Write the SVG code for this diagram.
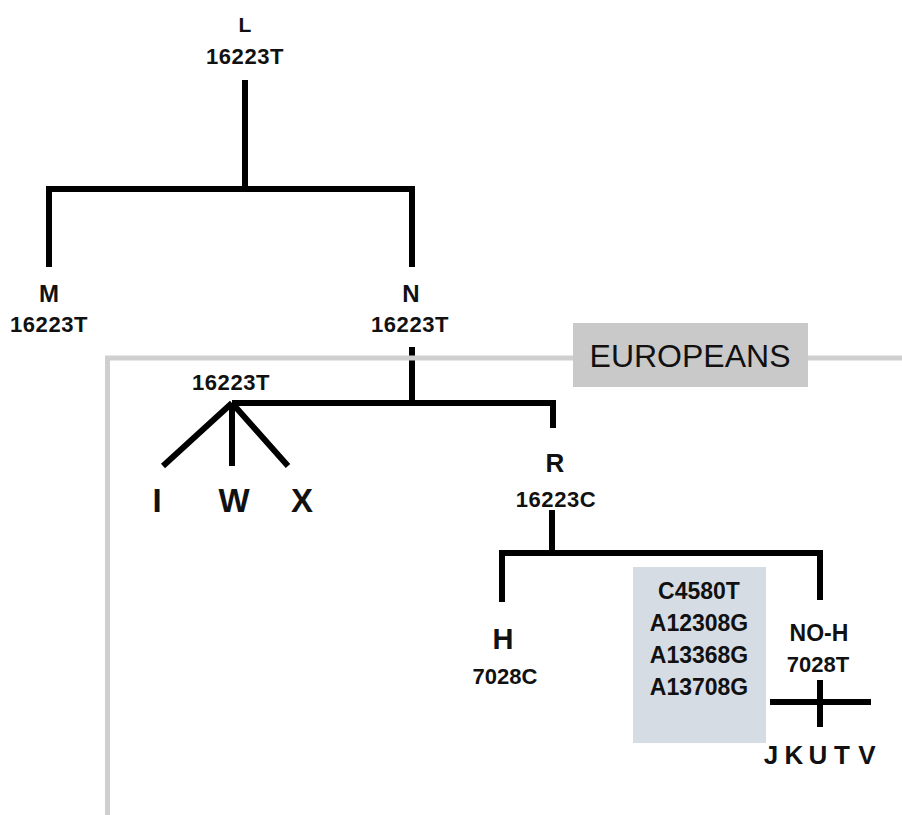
<svg xmlns="http://www.w3.org/2000/svg" width="902" height="815" viewBox="0 0 902 815">
<style>
.t{font-family:"Liberation Sans",Arial,sans-serif;font-weight:bold;fill:#111;text-anchor:middle}
.c{font-size:22px;letter-spacing:0.6px}
.big{font-size:24px}
.m{font-size:23px}
.e{stroke:#000;stroke-width:6;fill:none;stroke-linejoin:miter;stroke-linecap:butt}
</style>
<rect width="902" height="815" fill="#fff"/>
<g id="connectors" class="e">
<path d="M245,80V189"/>
<polyline points="49,267 49,189 412,189 412,267"/>
<path d="M412,347V403"/>
<polyline points="232,403 553,403 553,428"/>
<path d="M232,403L163,466M232,403V466M232,403L288,466"/>
<path d="M552,510V553"/>
<polyline points="502,602 502,553 820,553 820,600"/>
<path d="M770,702H871M820,680V727"/>
</g>
<g id="europeans">
<path d="M107.5,815V358H902" stroke="#cfcfcf" stroke-width="5" fill="none"/>
<rect x="573" y="323" width="235" height="64" fill="#c9c9c9"/>
<text x="690" y="367" font-family="Liberation Sans,Arial,sans-serif" font-size="32" fill="#111" text-anchor="middle">EUROPEANS</text>
</g>
<g id="node-L"><text class="t" x="245" y="32" style="font-size:21px">L</text><text class="t c" x="245" y="64">16223T</text></g>
<g id="node-M"><text class="t big" x="49" y="302">M</text><text class="t c" x="49" y="332">16223T</text></g>
<g id="node-N"><text class="t big" x="411" y="302">N</text><text class="t c" x="410" y="332">16223T</text></g>
<g id="node-IWX-root"><text class="t c" x="231" y="390">16223T</text></g>
<g id="node-I"><text class="t" x="157" y="512" style="font-size:33px">I</text></g>
<g id="node-W"><text class="t" x="234" y="512" style="font-size:33px">W</text></g>
<g id="node-X"><text class="t" x="302" y="512" style="font-size:33px">X</text></g>
<g id="node-R"><text class="t" x="555" y="472" style="font-size:26px">R</text><text class="t c" x="556" y="507">16223C</text></g>
<g id="node-H"><text class="t" x="503" y="649" style="font-size:29px">H</text><text class="t" x="505" y="684" style="font-size:22px">7028C</text></g>
<g id="mutations">
<rect x="633" y="567" width="133" height="176" fill="#d6dce4"/>
<text class="t m" x="699" y="599">C4580T</text>
<text class="t m" x="699" y="631">A12308G</text>
<text class="t m" x="699" y="663">A13368G</text>
<text class="t m" x="699" y="695">A13708G</text>
</g>
<g id="node-NOH"><text class="t m" x="819" y="641">NO-H</text><text class="t" x="818" y="672" style="font-size:22px">7028T</text></g>
<g id="node-JKUTV">
<text class="t" x="771" y="764" style="font-size:26px">J</text>
<text class="t" x="794" y="764" style="font-size:26px">K</text>
<text class="t" x="818" y="764" style="font-size:26px">U</text>
<text class="t" x="842" y="764" style="font-size:26px">T</text>
<text class="t" x="867" y="764" style="font-size:26px">V</text>
</g>
</svg>
